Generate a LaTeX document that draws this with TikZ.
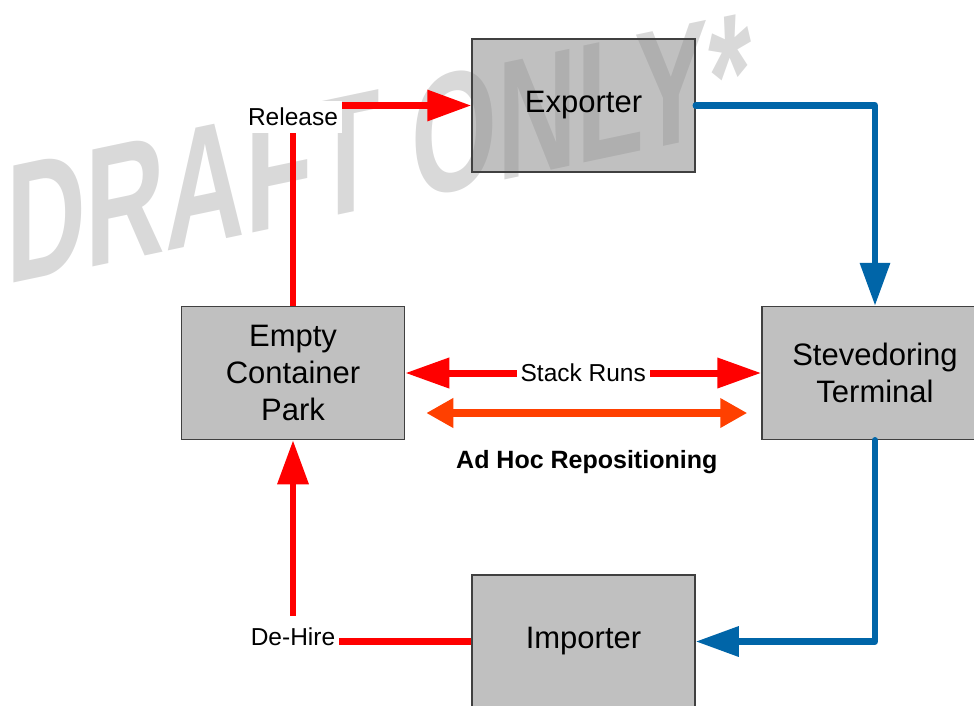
\documentclass[tikz,border=0pt]{standalone}
\usepackage{fontspec}
\setmainfont{Liberation Sans}
\definecolor{boxgray}{RGB}{141,141,141}
\definecolor{boxline}{RGB}{64,64,64}
\definecolor{draftgray}{RGB}{217,217,217}
\definecolor{flowred}{RGB}{255,0,0}
\definecolor{flowblue}{RGB}{0,101,168}
\definecolor{adhocred}{RGB}{255,64,0}
\usetikzlibrary{arrows.meta,positioning,calc}

\begin{document}
\begin{tikzpicture}[x=1pt, y=-1pt,
  party/.style={draw=boxline, line width=1.5pt, fill=boxgray, fill opacity=0.55,
    text opacity=1, minimum width=223pt, minimum height=133pt, inner sep=0pt,
    align=center, font=\fontsize{31}{37}\selectfont},
  flowlbl/.style={fill=white, inner xsep=4pt, inner ysep=7pt,
    font=\fontsize{24.5}{29}\selectfont},
  redflow/.style={draw=flowred, line width=6.5pt,
    -{Triangle[length=44pt,width=30pt]}},
  blueflow/.style={draw=flowblue, line width=6.5pt, line cap=round, line join=round,
    -{Triangle[length=43pt,width=29pt]}}]
  \useasboundingbox (0,0) rectangle (974,705);

  % Watermark behind everything
  \node[font=\fontsize{170}{170}\selectfont\bfseries, text=draftgray, inner sep=0pt,
        anchor=base west, xscale=0.65, yslant=0.137] (draft) at (6,285) {DRAFT ONLY*};

  % Parties
  \node[party] (exporter) at (583.5,105.5) {Exporter};
  \node[party] (ecp) at (293,373) {Empty\\Container\\Park};
  \node[party, minimum width=226pt] (steve) at (875,373) {Stevedoring\\Terminal};
  \node[party] (importer) at (583.5,641.5) {Importer};

  % Full container flow (blue)
  \draw[blueflow] (exporter.east) -| (steve.north);
  \draw[blueflow] (steve.south) |- (importer.east);

  % Empty container flow (red)
  \draw[redflow] (ecp.north) |- (exporter.west)
    node[pos=0.5, flowlbl, yshift=-11pt] (release) {Release};
  \draw[redflow] (importer.west) -| (ecp.south)
    node[pos=0.5, flowlbl, inner ysep=12pt, yshift=5pt] (dehire) {De-Hire};

  % Repositioning between park and terminal
  \draw[draw=flowred, line width=7pt,
        {Triangle[length=44pt,width=29pt]}-{Triangle[length=44pt,width=29pt]}]
    (ecp.east) -- node[flowlbl, inner ysep=2pt] (stack) {Stack Runs} (steve.west);
  \draw[draw=adhocred, line width=8pt,
        {Triangle[length=27pt,width=28pt]}-{Triangle[length=27pt,width=28pt]}]
    ($(ecp.east)+(21,40)$) -- ($(steve.west)+(-14,40)$)
    node[midway, yshift=-49pt, font=\fontsize{25}{30}\selectfont\bfseries] (adhoc)
    {Ad Hoc Repositioning};
\end{tikzpicture}
\end{document}
